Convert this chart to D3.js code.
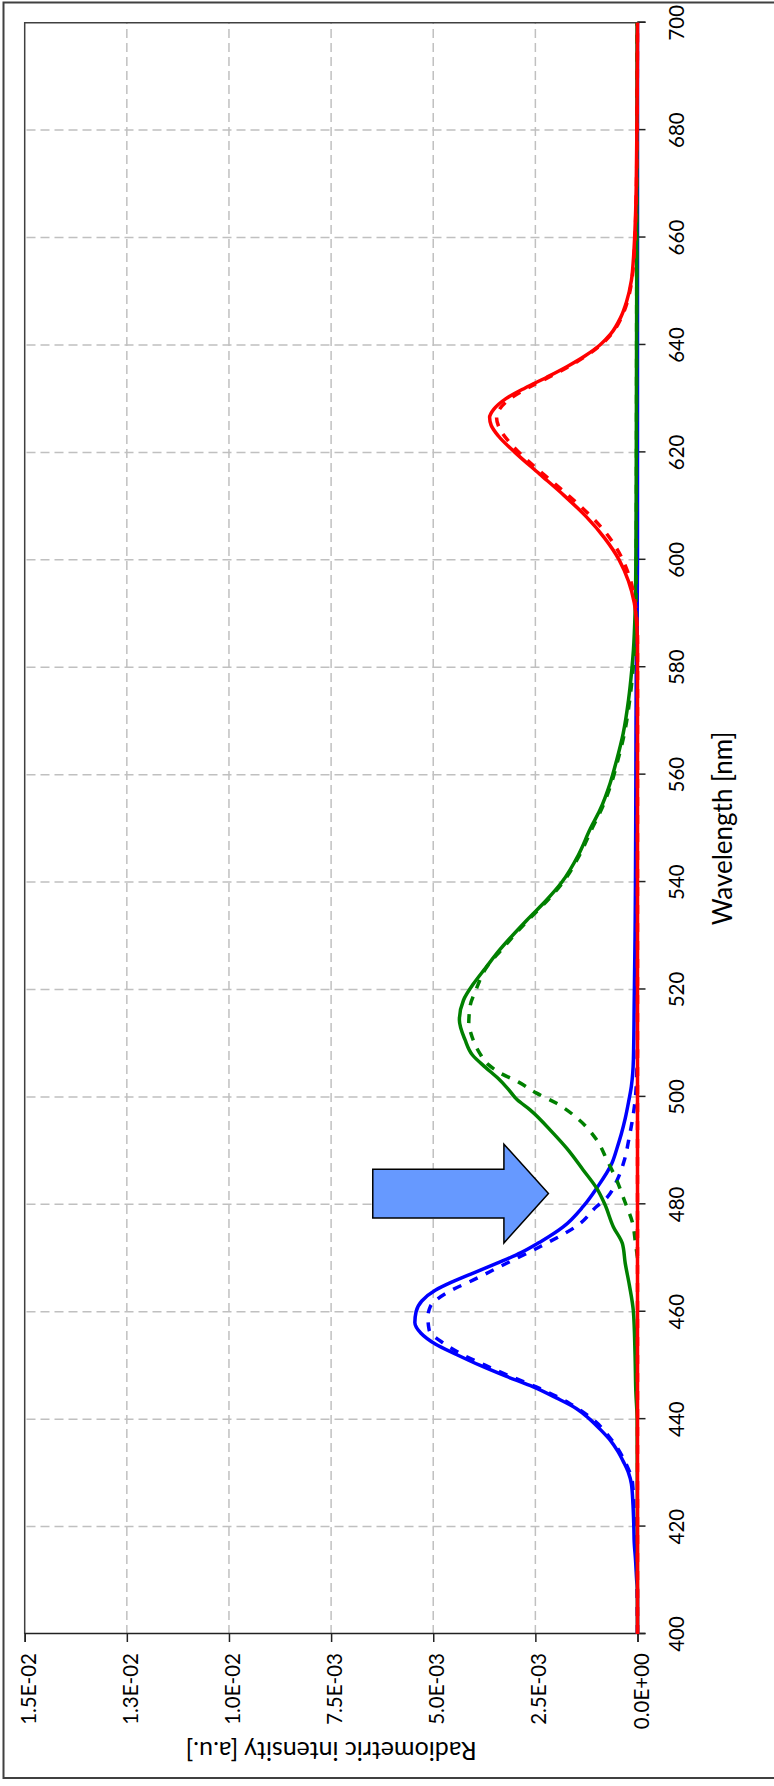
<!DOCTYPE html>
<html>
<head>
<meta charset="utf-8">
<script src="https://cdn.jsdelivr.net/npm/d3@7"></script>
<style>
  body { margin: 0; background: #fff; }
  svg { display: block; }
</style>
</head>
<body>
<svg id="chart" width="774" height="1786"></svg>
<script>
// Axis ticks
const wavelengthTicks = [400, 420, 440, 460, 480, 500, 520, 540, 560, 580, 600, 620, 640, 660, 680, 700];
const intensityTicks = [0, 0.0025, 0.005, 0.0075, 0.01, 0.0125, 0.015];
const intensityTickLabels = ["0.0E+00", "2.5E-03", "5.0E-03", "7.5E-03", "1.0E-02", "1.3E-02", "1.5E-02"];

// Spectra: [wavelength nm, radiometric intensity in units of 1E-03]
const blueMeasured = [[400,0],[408,0],[410,0.02],[414,0.05],[417,0.08],[420,0.09],[424,0.11],[428,0.15],[430,0.22],[432,0.34],[434,0.48],[436,0.66],[438,0.9],[440,1.17],[442,1.5],[444,2.0],[446,2.55],[448,3.22],[450,3.85],[452,4.42],[454,4.95],[456,5.3],[458,5.45],[460,5.42],[462,5.28],[464,4.95],[465.5,4.55],[467,4.08],[469,3.45],[471,2.85],[473,2.38],[475.8,1.82],[479.6,1.33],[483,1.0],[487.6,0.63],[490.5,0.5],[493,0.4],[496,0.3],[499,0.22],[502,0.15],[507,0.1],[518,0.08],[530,0.06],[540,0.05],[560,0.04],[580,0.03],[590,0.01],[600,0],[700,0]];
const blueSimulated = [[400,0],[415,0.03],[420,0.07],[428,0.12],[432,0.3],[436,0.62],[440,1.1],[443,1.68],[446,2.48],[448,3.12],[450,3.72],[452,4.28],[454,4.72],[456.6,5.1],[459,5.13],[461,5.07],[463.5,4.67],[466.2,3.94],[468.4,3.37],[472.1,2.39],[476.4,1.41],[479.6,1.0],[481,0.78],[484.5,0.5],[488,0.33],[492.6,0.2],[496.9,0.1],[500,0.05],[504,0.02],[510,0]];
const greenMeasured = [[400,0],[440,0.01],[445,0.04],[452,0.06],[460,0.1],[465,0.2],[469,0.3],[472.7,0.37],[475.8,0.59],[480,0.8],[483,1.0],[486.4,1.33],[490.4,1.73],[493.2,2.06],[497.6,2.63],[499.5,2.95],[501.5,3.17],[503.5,3.42],[505.5,3.72],[507.8,4.04],[510.6,4.22],[514.3,4.36],[518,4.26],[521,4.02],[524,3.72],[527.4,3.37],[532.9,2.71],[536.7,2.22],[540,1.85],[545,1.45],[550,1.15],[553.4,0.92],[558.4,0.67],[562.7,0.51],[567.7,0.35],[573.9,0.22],[579.5,0.14],[583.2,0.1],[590,0.06],[600,0.04],[620,0.03],[650,0.02],[700,0.01]];
const greenSimulated = [[470,0],[472.8,0.05],[476.5,0.12],[480.5,0.31],[484.5,0.51],[488.3,0.75],[492,1.0],[496,1.47],[498.8,1.98],[500.7,2.47],[502.8,2.92],[504.4,3.35],[506,3.65],[508.1,3.86],[510,3.99],[511.9,4.08],[513.5,4.13],[516.8,4.1],[520,3.95],[524.2,3.69],[527.4,3.33],[532.9,2.68],[536.7,2.19],[540,1.82],[545,1.42],[550,1.11],[553.4,0.89],[558.4,0.64],[562.7,0.48],[567.7,0.32],[573.9,0.19],[579.5,0.11],[583.2,0.07],[590,0.04],[600,0.03],[650,0.02],[700,0.01]];
const redMeasured = [[400,0],[584,0],[588,0.02],[592,0.08],[596,0.22],[600,0.45],[604,0.8],[608,1.25],[612,1.8],[616,2.4],[620,3.0],[623,3.4],[625,3.58],[626.5,3.62],[628,3.52],[630,3.22],[632,2.75],[634,2.22],[636,1.72],[638,1.28],[640,0.92],[642,0.66],[645,0.42],[648,0.27],[652,0.15],[656,0.1],[660,0.07],[665,0.045],[670,0.03],[680,0.015],[690,0.005],[700,0]];
const redSimulated = [[400,0],[586,0],[590,0.03],[594,0.1],[598,0.25],[602,0.5],[606,0.88],[610,1.4],[614,2.0],[618,2.62],[622,3.15],[624.5,3.38],[626.5,3.45],[628,3.38],[630,3.12],[632,2.68],[634,2.17],[636,1.68],[638,1.25],[640,0.9],[642,0.64],[645,0.4],[648,0.25],[652,0.14],[656,0.09],[660,0.06],[665,0.04],[670,0.025],[680,0.012],[700,0]];
const UNIT = 1e-3;

// Block arrow pointing at the blue/green crossover (data units)
const arrowNote = { tipNm: 482, tipI: 2.18, headBaseI: 3.27, tailI: 6.48, headHalfNm: 9.2, bodyHalfNm: 4.55 };

// The chart is laid out landscape (wavelength horizontal) and turned a quarter turn
const W = 1786, H = 774;
const svg = d3.select("#chart");
const root = svg.append("g").attr("transform", `translate(0,${W}) rotate(-90)`);

const x = d3.scaleLinear().domain([400, 700]).range([152, 1763.3]);
const y = d3.scaleLinear().domain([0, 0.015]).range([637.5, 24.7]);

// Chart area frame
root.append("rect")
  .attr("x", 8).attr("y", 3.5).attr("width", 1775.5).attr("height", 820)
  .attr("fill", "#fff").attr("stroke", "#404040").attr("stroke-width", 2);

const grid = root.append("g");
grid.selectAll("line.hg").data(intensityTicks.filter(t => t > 0 && t < 0.015)).join("line")
  .attr("x1", x(400)).attr("x2", x(700))
  .attr("y1", d => y(d)).attr("y2", d => y(d))
  .attr("stroke", "#c0c0c0").attr("stroke-width", 1.5).attr("stroke-dasharray", "9,5");
grid.selectAll("line.vg").data(wavelengthTicks.filter(t => t > 400 && t < 700)).join("line")
  .attr("y1", y(0)).attr("y2", y(0.015))
  .attr("x1", d => x(d)).attr("x2", d => x(d))
  .attr("stroke", "#c0c0c0").attr("stroke-width", 1.5).attr("stroke-dasharray", "9,5");

// Plot area border (top and far edges)
root.append("path")
  .attr("d", `M${x(400)},${y(0.015)}H${x(700)}V${y(0)}`)
  .attr("fill", "none").attr("stroke", "#404040").attr("stroke-width", 1.5);

// Axes
const xAxis = d3.axisBottom(x).tickValues(wavelengthTicks).tickSize(8).tickFormat("");
const yAxis = d3.axisLeft(y).tickValues(intensityTicks).tickSize(8).tickFormat("");
const gx = root.append("g").attr("transform", `translate(0,${y(0)})`).call(xAxis);
const gy = root.append("g").attr("transform", `translate(${x(400)},0)`).call(yAxis);
[gx, gy].forEach(g => {
  g.select(".domain").attr("stroke", "#222").attr("stroke-width", 1.5);
  g.selectAll(".tick line").attr("stroke", "#222").attr("stroke-width", 1.5);
});

root.selectAll("text.xl").data(wavelengthTicks).join("text")
  .attr("x", d => x(d)).attr("y", 676)
  .attr("text-anchor", "middle").attr("dominant-baseline", "central")
  .attr("font-family", "Lato, sans-serif").attr("font-size", 20.5).attr("fill", "#000")
  .text(d => d);
root.selectAll("text.yl").data(intensityTicks).join("text")
  .attr("x", x(400) - 19).attr("y", d => y(d) + 3)
  .attr("text-anchor", "end").attr("dominant-baseline", "central")
  .attr("font-family", "Lato, sans-serif").attr("font-size", 20.5).attr("fill", "#000")
  .text((d, i) => intensityTickLabels[i]);

root.append("text")
  .attr("x", (x(400) + x(700)) / 2).attr("y", 722)
  .attr("text-anchor", "middle").attr("dominant-baseline", "central")
  .attr("font-family", "Lato, sans-serif").attr("font-size", 26).attr("fill", "#000")
  .text("Wavelength [nm]");
root.append("text")
  .attr("transform", `translate(34,${(y(0) + y(0.015)) / 2}) rotate(-90)`)
  .attr("text-anchor", "middle").attr("dominant-baseline", "central")
  .attr("font-family", "Lato, sans-serif").attr("font-size", 25).attr("fill", "#000")
  .text("Radiometric intensity [a.u.]");

// Spectra
const line = d3.line().x(d => x(d[0])).y(d => y(d[1] * UNIT)).curve(d3.curveMonotoneX);
const series = [
  { data: blueMeasured, color: "#0000ff", dash: null },
  { data: blueSimulated, color: "#0000ff", dash: "9,9" },
  { data: greenMeasured, color: "#008000", dash: null },
  { data: greenSimulated, color: "#008000", dash: "9,9" },
  { data: redMeasured, color: "#ff0000", dash: null },
  { data: redSimulated, color: "#ff0000", dash: "9,9" }
];
root.append("g").selectAll("path").data(series).join("path")
  .attr("d", d => line(d.data))
  .attr("fill", "none")
  .attr("stroke", d => d.color)
  .attr("stroke-width", 3.5)
  .attr("stroke-linejoin", "round")
  .attr("stroke-dasharray", d => d.dash);

// Arrow annotation
const a = arrowNote;
const arrowPts = [
  [x(a.tipNm - a.bodyHalfNm), y(a.tailI * UNIT)],
  [x(a.tipNm - a.bodyHalfNm), y(a.headBaseI * UNIT)],
  [x(a.tipNm - a.headHalfNm), y(a.headBaseI * UNIT)],
  [x(a.tipNm), y(a.tipI * UNIT)],
  [x(a.tipNm + a.headHalfNm), y(a.headBaseI * UNIT)],
  [x(a.tipNm + a.bodyHalfNm), y(a.headBaseI * UNIT)],
  [x(a.tipNm + a.bodyHalfNm), y(a.tailI * UNIT)]
];
root.append("polygon")
  .attr("points", arrowPts.map(p => p.join(",")).join(" "))
  .attr("fill", "#6699ff").attr("stroke", "#000").attr("stroke-width", 1.5)
  .attr("stroke-linejoin", "miter");
</script>
</body>
</html>
